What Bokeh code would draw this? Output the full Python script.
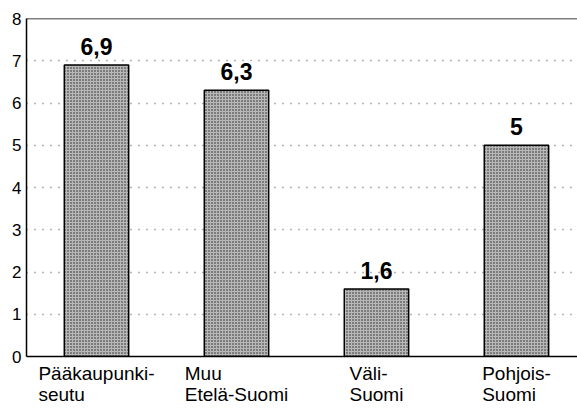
from bokeh.plotting import figure
from bokeh.models import ColumnDataSource, LabelSet, Range1d, FixedTicker, Span, LinearAxis
from bokeh.core.properties import value
from bokeh.embed import file_html
from bokeh.resources import INLINE
import numpy as np

# ---- data ----
categories = ["Pääkaupunki-\nseutu", "Muu\nEtelä-Suomi", "Väli-\nSuomi", "Pohjois-\nSuomi"]
values = [6.9, 6.3, 1.6, 5.0]
value_labels = ["6,9", "6,3", "1,6", "5"]
y_ticks = [0, 1, 2, 3, 4, 5, 6, 7, 8]

FONT = "Liberation Sans"
CAT_SIZE = 19
W, H = 577, 408
BL, BR, BT, BB = 26, 0, 18, 52
X_END = 3.936

# approximate Arial/Liberation Sans advance widths (em)
NARROW = {"i": 0.222, "l": 0.222, "j": 0.222, "t": 0.278, "-": 0.333,
          "k": 0.5, "s": 0.5, "m": 0.833, "M": 0.833}


def text_width(s, size):
    w = 0.0
    for c in s:
        if c in NARROW:
            w += NARROW[c]
        elif c.isupper():
            w += 0.667
        else:
            w += 0.556
    return w * size


x = np.arange(len(categories)) + 0.5
px_per_unit = (W - BL - BR) / X_END

# each category label is a left-aligned two-line block centred on its bar;
# every line is drawn by its own axis, centred at its own tick
line_ticks = [[], []]
line_text = [{}, {}]
for xi, c in zip(x, categories):
    lines = c.split("\n")
    widths = [text_width(l, CAT_SIZE) for l in lines]
    left = xi - max(widths) / 2 / px_per_unit
    for k, (l, w) in enumerate(zip(lines, widths)):
        t = float(left + w / 2 / px_per_unit)
        line_ticks[k].append(t)
        line_text[k][t] = l

src = ColumnDataSource(dict(x=x, top=values, lab=value_labels))

p = figure(width=W, height=H, output_backend="svg", toolbar_location=None,
           x_range=Range1d(0, X_END), y_range=Range1d(0, 8),
           min_border_left=BL, min_border_right=BR, min_border_top=BT, min_border_bottom=BB)
p.outline_line_color = None
p.background_fill_color = "white"
p.border_fill_color = "white"

p.vbar(x="x", top="top", width=0.46, source=src,
       fill_color="#b8b8b8", hatch_pattern="dot", hatch_color="#222222", hatch_scale=3,
       line_color="black", line_width=1.5)

# y axis
p.yaxis.ticker = FixedTicker(ticks=y_ticks)
p.yaxis.major_tick_out = 0
p.yaxis.major_tick_in = 0
p.yaxis.minor_tick_out = 0
p.yaxis.minor_tick_in = 0
p.yaxis.major_label_text_font = FONT
p.yaxis.major_label_text_font_size = "17px"
p.yaxis.major_label_text_color = "black"
p.yaxis.major_label_standoff = 5
p.yaxis.axis_line_color = "black"
p.yaxis.axis_line_width = 1.5


def style_x(ax, ticks, overrides, standoff, line_color):
    ax.ticker = FixedTicker(ticks=ticks)
    ax.major_label_overrides = overrides
    ax.major_label_text_font = FONT
    ax.major_label_text_font_size = f"{CAT_SIZE}px"
    ax.major_label_text_color = "black"
    ax.major_label_standoff = standoff
    ax.major_tick_out = 0
    ax.major_tick_in = 0
    ax.minor_tick_out = 0
    ax.minor_tick_in = 0
    ax.axis_line_color = line_color
    ax.axis_line_width = 1.5


style_x(p.xaxis[0], line_ticks[0], line_text[0], 6, "black")
ax2 = LinearAxis()
style_x(ax2, line_ticks[1], line_text[1], -3, None)
p.add_layout(ax2, "below")

p.xgrid.grid_line_color = None
p.ygrid.ticker = FixedTicker(ticks=y_ticks[1:-1])
p.ygrid.grid_line_color = "#666666"
p.ygrid.grid_line_dash = "1 7"
p.ygrid.grid_line_width = 1.5

p.add_layout(Span(location=y_ticks[-1], dimension="width", line_color="black", line_width=1.5))

# value labels
p.add_layout(LabelSet(x="x", y="top", text="lab", source=src, y_offset=10,
                      text_align="center", text_baseline="bottom",
                      text_font=value(FONT), text_font_style="bold",
                      text_font_size="23px", text_color="black"))

open("out.html", "w").write(file_html(p, INLINE))
